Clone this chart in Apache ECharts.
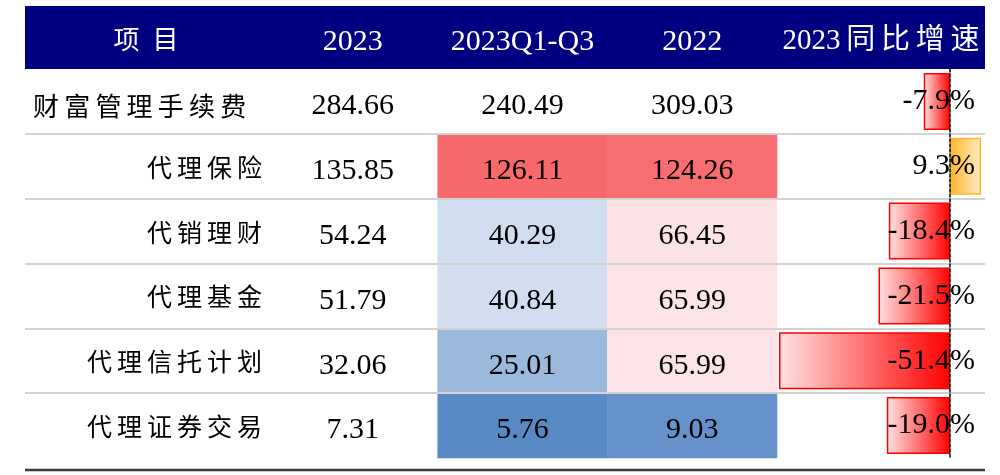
<!DOCTYPE html>
<html>
<head>
<meta charset="utf-8">
<script src="https://cdn.jsdelivr.net/npm/echarts@6/dist/echarts.min.js"></script>
<style>
html,body{margin:0;padding:0;background:#fff;}
#chart{width:1000px;height:475px;}
</style>
</head>
<body>
<div id="chart"></div>
<script>
// ---- data ----
const rowNames = ['财富管理手续费', '代理保险', '代销理财', '代理基金', '代理信托计划', '代理证券交易'];
const colNames = ['2023', '2023Q1-Q3', '2022'];
const headFirst = '项 目';
const headLast = '2023同比增速';
const v2023 = [284.66, 135.85, 54.24, 51.79, 32.06, 7.31];
const vQ1Q3 = [240.49, 126.11, 40.29, 40.84, 25.01, 5.76];
const v2022 = [309.03, 124.26, 66.45, 65.99, 65.99, 9.03];
const yoy = [-7.9, 9.3, -18.4, -21.5, -51.4, -19.0];

// ---- build ----
const SERIF = "'Liberation Serif','Noto Sans CJK SC',serif";
const SP = '\u2009';
const spaced = s => s.split('').join(SP);

// heat-coloured cells: Q1-Q3 and 2022 columns, rows 2..6
const heatData = [];
const plainData = [];
[v2023, vQ1Q3, v2022].forEach((arr, ci) => {
  arr.forEach((v, ri) => {
    if (ci > 0 && ri > 0) heatData.push([ci, ri, v]);
    else plainData.push([ci, ri, v]);
  });
});
const heatVals = heatData.map(d => d[2]).sort((a, b) => a - b);
const lo = heatVals[0], hi = heatVals[heatVals.length - 1];
const n = heatVals.length;
const mid = n % 2 ? heatVals[(n - 1) / 2] : (heatVals[n / 2 - 1] + heatVals[n / 2]) / 2;
const cBlue = [90, 138, 198], cWhite = [252, 252, 255], cRed = [248, 105, 107];
function mix(a, b, t) { return 'rgb(' + a.map((x, i) => Math.round(x + (b[i] - x) * t)).join(',') + ')'; }
const stops = [];
const N = 81;
for (let i = 0; i < N; i++) {
  const v = lo + (hi - lo) * i / (N - 1);
  stops.push(v <= mid ? mix(cBlue, cWhite, (v - lo) / (mid - lo)) : mix(cWhite, cRed, (v - mid) / (hi - mid)));
}

const barData = yoy.map(v => ({
  value: v,
  itemStyle: v < 0 ? {
    color: new echarts.graphic.LinearGradient(0, 0, 1, 0, [{offset: 0, color: '#FFE2E2'}, {offset: 1, color: '#FF0000'}]),
    borderColor: '#FF0000', borderWidth: 1.5
  } : {
    color: new echarts.graphic.LinearGradient(0, 0, 1, 0, [{offset: 0, color: '#FFB628'}, {offset: 1, color: '#FFEDC8'}]),
    borderColor: '#FFB628', borderWidth: 1.5
  }
}));
const pctLabels = yoy.map(v => v.toFixed(1) + '%');

const TOP = 69, H = 389;
const cellLabel = {show: true, color: '#000', fontSize: 30, fontFamily: SERIF, offset: [0, 5], formatter: p => p.value[2].toFixed(2)};

const chart = echarts.init(document.getElementById('chart'), null, {renderer: 'canvas'});
chart.setOption({
  animation: false,
  backgroundColor: '#fff',
  graphic: [
    {type: 'rect', z: -10, shape: {x: 25, y: 6, width: 960, height: 63}, style: {fill: '#000080'}},
    {type: 'text', z: 10, x: 146, y: 42, style: {text: headFirst.replace(' ', '\u2002'), fill: '#fff', font: '26px ' + SERIF, textAlign: 'center', textVerticalAlign: 'middle'}},
    {type: 'line', z: 10, shape: {x1: 25, y1: 470, x2: 985, y2: 470}, style: {stroke: '#3a3a3a', lineWidth: 2.5}}
  ],
  grid: [
    {left: 25, right: 15, top: TOP, height: H},
    {left: 268, width: 509, top: TOP, height: H},
    {left: 777, right: 15, top: TOP, height: H}
  ],
  xAxis: [
    {gridIndex: 0, type: 'value', show: false, min: 0, max: 1},
    {gridIndex: 1, type: 'category', data: colNames, position: 'top',
      axisLine: {show: false}, axisTick: {show: false}, splitLine: {show: false},
      axisLabel: {interval: 0, hideOverlap: false, color: '#fff', fontSize: 30, fontFamily: SERIF, margin: 12}},
    {gridIndex: 2, type: 'value', min: -52, max: 10.5, position: 'top',
      axisLine: {show: false}, axisTick: {show: false}, axisLabel: {show: false}, splitLine: {show: false},
      name: spaced(headLast).replace('2' + SP + '0' + SP + '2' + SP + '3', '2023'), nameLocation: 'middle', nameGap: 13,
      nameTextStyle: {color: '#fff', fontSize: 29, fontFamily: SERIF}}
  ],
  yAxis: [
    {gridIndex: 0, type: 'value', min: 0, max: 6, interval: 1, inverse: true, z: 5,
      axisLine: {show: false}, axisTick: {show: false}, axisLabel: {show: false},
      splitLine: {show: true, showMinLine: false, showMaxLine: false, lineStyle: {color: '#D2D2D2', width: 2}}},
    {gridIndex: 1, type: 'category', data: rowNames, inverse: true,
      axisLine: {show: false}, axisTick: {show: false}, splitLine: {show: false},
      axisLabel: {interval: 0, margin: 6, color: '#000', fontSize: 25, fontFamily: SERIF, padding: [8, 0, 0, 0],
        formatter: (val, idx) => idx === 0 ? '{first|' + spaced(val) + '}' : spaced(val),
        rich: {first: {width: 229, align: 'left', fontSize: 26, fontFamily: SERIF, color: '#000', padding: [8, 0, 0, 0]}}}},
    {gridIndex: 2, type: 'category', data: rowNames, inverse: true, z: 10,
      axisLine: {show: true, onZero: true, lineStyle: {color: '#000', type: [3, 2], width: 1.5}},
      axisTick: {show: false}, axisLabel: {show: false}, splitLine: {show: false}},
    {gridIndex: 2, type: 'category', data: pctLabels, inverse: true, position: 'right', z: 10,
      axisLine: {show: false, onZero: false}, axisTick: {show: false}, splitLine: {show: false},
      axisLabel: {interval: 0, inside: true, margin: 10, color: '#000', fontSize: 30, fontFamily: SERIF, padding: [10, 0, 0, 0]}}
  ],
  visualMap: [{type: 'continuous', show: false, seriesIndex: 0, dimension: 2, min: lo, max: hi, inRange: {color: stops}}],
  series: [
    {type: 'heatmap', xAxisIndex: 1, yAxisIndex: 1, data: heatData,
      label: cellLabel, itemStyle: {borderWidth: 0}, emphasis: {disabled: true}},
    {type: 'heatmap', xAxisIndex: 1, yAxisIndex: 1, data: plainData,
      label: cellLabel, itemStyle: {color: 'rgba(255,255,255,0)', borderWidth: 0}, emphasis: {disabled: true}},
    {type: 'bar', xAxisIndex: 2, yAxisIndex: 2, data: barData, barWidth: 57}
  ]
});
</script>
</body>
</html>
